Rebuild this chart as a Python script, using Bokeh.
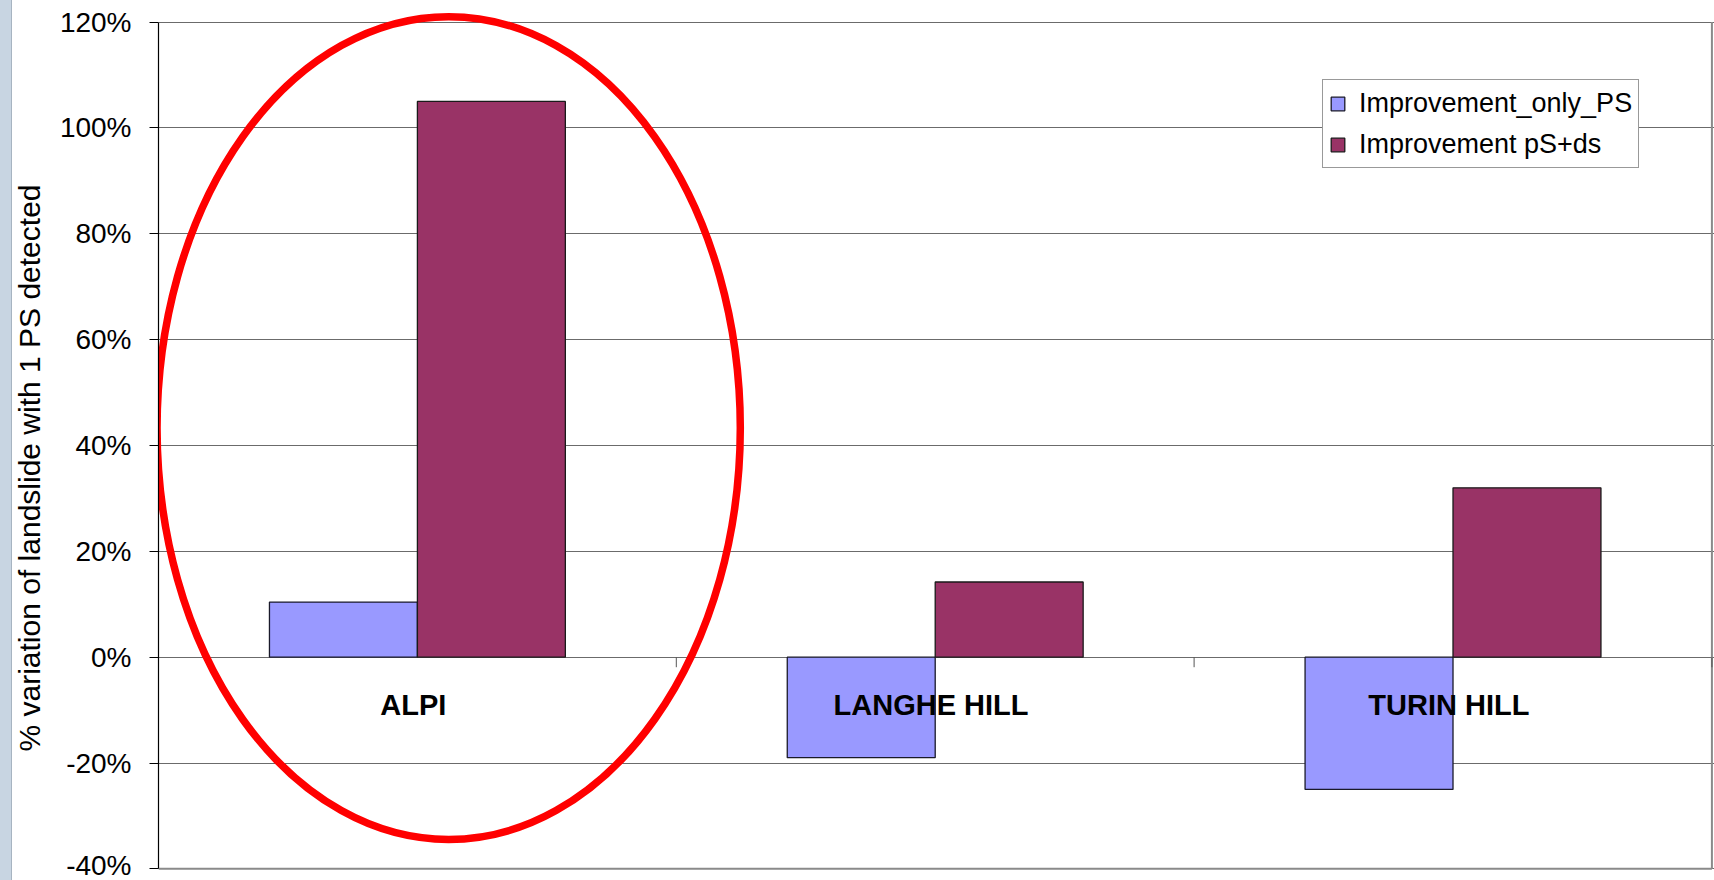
from bokeh.plotting import figure
from bokeh.models import Range1d, FixedTicker, NumeralTickFormatter, Legend, LegendItem, Title
from bokeh.core.properties import value
from bokeh.embed import file_html
from bokeh.resources import INLINE

# --- data -------------------------------------------------------------
categories = ["ALPI", "LANGHE HILL", "TURIN HILL"]
improvement_only_ps = [0.104, -0.19, -0.25]
improvement_ps_ds = [1.05, 0.142, 0.32]
series_names = ["Improvement_only_PS", "Improvement pS+ds"]
y_ticks = [-0.4, -0.2, 0.0, 0.2, 0.4, 0.6, 0.8, 1.0, 1.2]
y_title = "% variation of landslide with 1 PS detected"

# --- style ------------------------------------------------------------
BLUE = "#9999FF"
MAROON = "#993366"
GRID = "#6b6b6b"
FRAME = "#8a8a8a"
FONT = "Liberation Sans"

n = len(categories)
bar_w = 1 / 3.5                      # two bars + 150% gap per category
centers = [i + 0.5 for i in range(n)]
tick_len = 0.019                     # category tick below the zero line

p = figure(
    width=1714, height=880,
    output_backend="svg", toolbar_location=None,
    x_range=Range1d(0, n + 0.005), y_range=Range1d(-0.405, 1.22),
    x_axis_location=None,
    min_border_left=157, min_border_right=0, min_border_top=11, min_border_bottom=9,
    background_fill_color="white", border_fill_color=None,
)
# slide-coloured strip along the left edge, white elsewhere
p.styles = {
    "background": "linear-gradient(to right, #C8D5E2 0px, #C8D5E2 11px, "
                  "#A7B4C1 11px, #A7B4C1 12px, #FFFFFF 12px, #FFFFFF 100%)"
}
p.outline_line_color = None
p.xgrid.visible = False

yax = p.yaxis[0]
yax.ticker = FixedTicker(ticks=y_ticks)
yax.formatter = NumeralTickFormatter(format="0%")
yax.bounds = (y_ticks[0], y_ticks[-1])
yax.axis_line_color = "black"
yax.axis_line_width = 1.2
yax.major_tick_line_color = "black"
yax.major_tick_out = 9
yax.major_tick_in = 0
yax.minor_tick_out = 0
yax.minor_tick_in = 0
yax.major_label_standoff = 18
yax.major_label_text_font = FONT
yax.major_label_text_font_size = "28px"
yax.major_label_text_color = "black"

p.ygrid[0].ticker = FixedTicker(ticks=y_ticks)
p.ygrid[0].grid_line_color = GRID
p.ygrid[0].grid_line_width = 1

# frame on the right and bottom of the plot area
p.segment(x0=[0, n], y0=[y_ticks[0], y_ticks[0]], x1=[n, n], y1=[y_ticks[0], y_ticks[-1]],
          line_color=FRAME, line_width=2)

# category separators on the zero line
p.segment(x0=list(range(1, n + 1)), y0=0, x1=list(range(1, n + 1)), y1=-tick_len,
          line_color="#555555", line_width=1)

r1 = p.vbar(x=[c - bar_w / 2 for c in centers], top=improvement_only_ps, bottom=0, width=bar_w,
            fill_color=BLUE, line_color="#1a1a2a", line_width=1.3)
r2 = p.vbar(x=[c + bar_w / 2 for c in centers], top=improvement_ps_ds, bottom=0, width=bar_w,
            fill_color=MAROON, line_color="#1a1a1a", line_width=1.3)

p.text(x=[c - 0.008 for c in centers], y=[-0.09] * n, text=categories,
       text_font=value(FONT), text_font_style="bold",
       text_font_size="29px", text_color="black",
       text_align="center", text_baseline="middle")

# red highlight ring around the ALPI group
p.ellipse(x=0.5604, y=0.4329, width=1.1264, height=1.5552,
          fill_color=None, line_color="#FF0000", line_width=7.5)

legend = Legend(
    items=[LegendItem(label=series_names[0], renderers=[r1]),
           LegendItem(label=series_names[1], renderers=[r2])],
    location=(1164, 703),
    label_text_font=FONT, label_text_font_size="27px", label_text_color="black",
    glyph_width=17, glyph_height=17, label_standoff=13,
    label_height=34, spacing=7, padding=6, margin=0,
    border_line_color="#333333", border_line_width=1,
    background_fill_color="white", background_fill_alpha=1,
)
p.add_layout(legend)

ytitle = Title(text=y_title, align="left", offset=120,
               text_font=FONT, text_font_size="30px", text_font_style="normal",
               text_color="black", standoff=21)
p.add_layout(ytitle, "left")

open("out.html", "w").write(file_html(p, INLINE))
